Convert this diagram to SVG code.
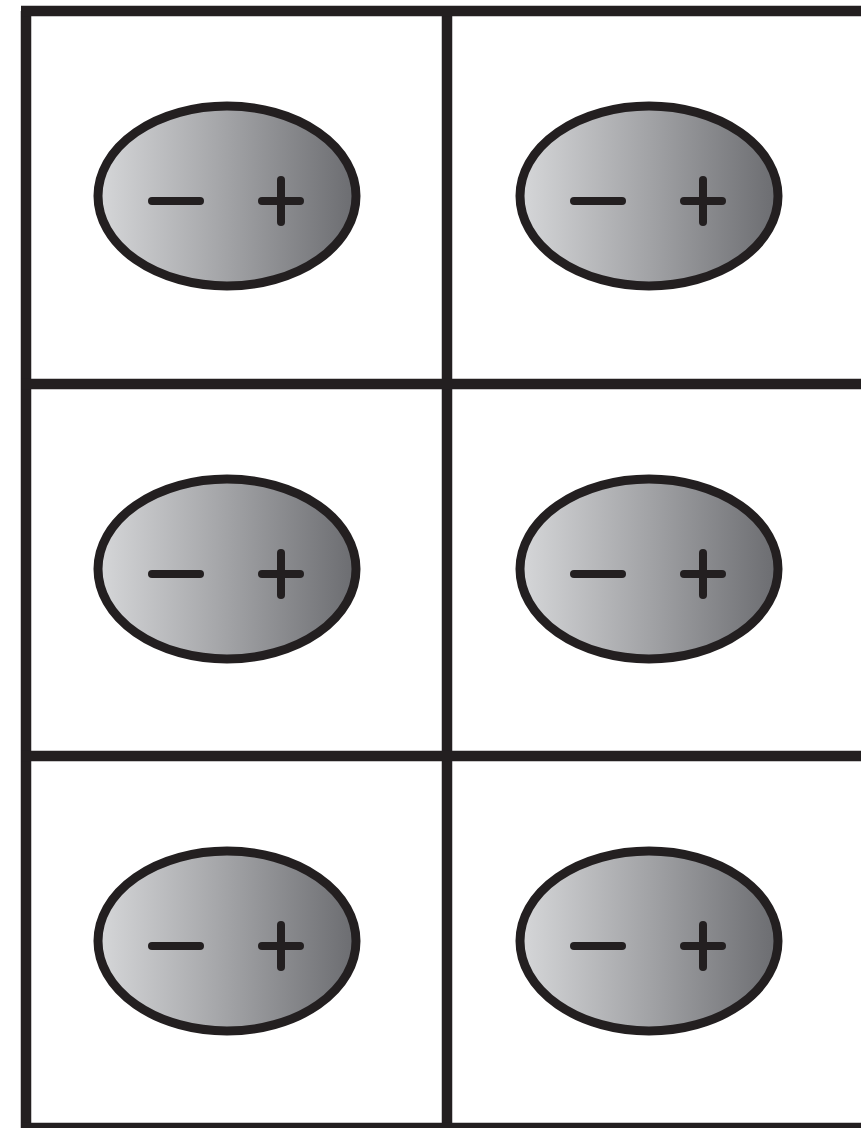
<svg xmlns="http://www.w3.org/2000/svg" width="861" height="1128" viewBox="0 0 861 1128">
<style>
.grid{stroke:#231f20;stroke-width:10.5;fill:none}
.cell-ell{fill:url(#g);stroke:#231f20;stroke-width:9}
.sign{stroke:#231f20;stroke-width:8;stroke-linecap:round;fill:none}
</style>
<defs>
<linearGradient id="g" x1="0" y1="0" x2="1" y2="0">
<stop offset="0" stop-color="#d6d7d9"/>
<stop offset="0.5" stop-color="#a2a3a6"/>
<stop offset="1" stop-color="#6b6c70"/>
</linearGradient>
<g id="cell">
<ellipse class="cell-ell" cx="0" cy="0" rx="129" ry="90"/>
<line class="sign" x1="-75" y1="5" x2="-27" y2="5"/>
<line class="sign" x1="35" y1="5" x2="73" y2="5"/>
<line class="sign" x1="54" y1="-16" x2="54" y2="26"/>
</g>
</defs>
<rect width="861" height="1128" fill="#ffffff"/>
<g id="connectors">
<line class="grid" x1="26" y1="11" x2="26" y2="1128"/>
<line class="grid" x1="447" y1="11" x2="447" y2="1128"/>
<line class="grid" x1="21" y1="11" x2="861" y2="11"/>
<line class="grid" x1="21" y1="384" x2="861" y2="384"/>
<line class="grid" x1="21" y1="756" x2="861" y2="756"/>
<line class="grid" x1="21" y1="1128" x2="861" y2="1128"/>
</g>
<g id="cell-1-1"><use href="#cell" x="227" y="196"/></g>
<g id="cell-1-2"><use href="#cell" x="649" y="196"/></g>
<g id="cell-2-1"><use href="#cell" x="227" y="569"/></g>
<g id="cell-2-2"><use href="#cell" x="649" y="569"/></g>
<g id="cell-3-1"><use href="#cell" x="227" y="941"/></g>
<g id="cell-3-2"><use href="#cell" x="649" y="941"/></g>
</svg>
